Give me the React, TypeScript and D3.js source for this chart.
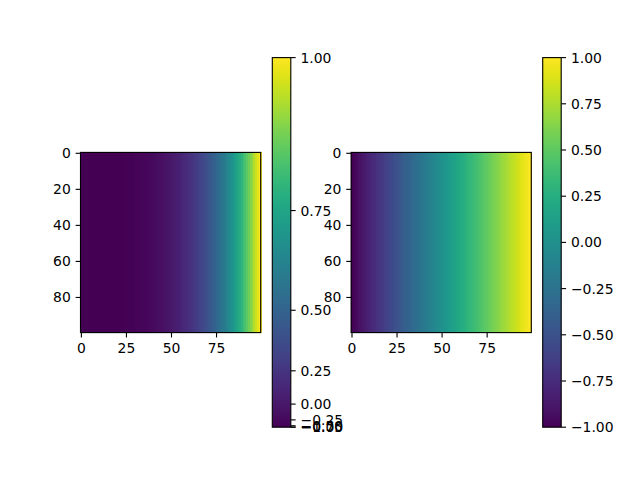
import React from "react";
import * as d3 from "d3";

// Column values of the image (each row is identical), from -1 to 1
const columnValues: number[] = [
  -1, -0.980, -0.960, -0.939, -0.919, -0.899, -0.879, -0.859, -0.838, -0.818,
  -0.798, -0.778, -0.758, -0.737, -0.717, -0.697, -0.677, -0.657, -0.636, -0.616,
  -0.596, -0.576, -0.556, -0.535, -0.515, -0.495, -0.475, -0.455, -0.434, -0.414,
  -0.394, -0.374, -0.354, -0.333, -0.313, -0.293, -0.273, -0.253, -0.232, -0.212,
  -0.192, -0.172, -0.152, -0.131, -0.111, -0.091, -0.071, -0.051, -0.030, -0.010,
  0.010, 0.030, 0.051, 0.071, 0.091, 0.111, 0.131, 0.152, 0.172, 0.192,
  0.212, 0.232, 0.253, 0.273, 0.293, 0.313, 0.333, 0.354, 0.374, 0.394,
  0.414, 0.434, 0.455, 0.475, 0.495, 0.515, 0.535, 0.556, 0.576, 0.596,
  0.616, 0.636, 0.657, 0.677, 0.697, 0.717, 0.737, 0.758, 0.778, 0.798,
  0.818, 0.838, 0.859, 0.879, 0.899, 0.919, 0.939, 0.960, 0.980, 1,
];
const nRows = 100;
const xTicks: number[] = [0, 25, 50, 75];
const yTicks: number[] = [0, 20, 40, 60, 80];
const cbarTicks: number[] = [-1, -0.75, -0.5, -0.25, 0, 0.25, 0.5, 0.75, 1];
const vmin = -1;
const vmax = 1;
const gamma = 4;

const powerNorm = (v: number) => {
  const r = Math.max(0, v - vmin);
  return Math.pow(r, gamma) / Math.pow(vmax - vmin, gamma);
};
const linearNorm = (v: number) => (v - vmin) / (vmax - vmin);

const FONT = "DejaVu Sans, sans-serif";
const FS = 13.9;
const TICK = 4.86;
const PAD = 4.86;
const LW = 1.11;

const fmtTick = (v: number) => {
  const s = v.toFixed(2);
  return s.startsWith("-") ? "\u2212" + s.slice(1) : s;
};

type PanelProps = {
  x0: number;
  cbX0: number;
  norm: (v: number) => number;
  id: string;
};

const imgTop = 152.4;
const imgSize = 180.2;
const cbTop = 57.6;
const cbBottom = 427.2;
const cbWidth = 18.5;

function Panel({ x0, cbX0, norm, id }: PanelProps) {
  const xs = d3.scaleLinear().domain([-0.5, columnValues.length - 0.5]).range([x0, x0 + imgSize]);
  const ys = d3.scaleLinear().domain([-0.5, nRows - 0.5]).range([imgTop, imgTop + imgSize]);
  const cbY = d3.scaleLinear().domain([0, 1]).range([cbBottom, cbTop]);
  const stops = d3.range(0, 1.0001, 0.02);
  return (
    <g>
      <defs>
        <linearGradient id={id} x1="0" y1="1" x2="0" y2="0">
          {stops.map((t) => (
            <stop key={t} offset={t} stopColor={d3.interpolateViridis(t)} />
          ))}
        </linearGradient>
      </defs>
      <g shapeRendering="crispEdges">
        {columnValues.map((v, i) => (
          <rect
            key={i}
            x={xs(i - 0.5)}
            y={ys(-0.5)}
            width={xs(i + 0.5) - xs(i - 0.5) + 0.8}
            height={ys(nRows - 0.5) - ys(-0.5)}
            fill={d3.interpolateViridis(norm(v))}
          />
        ))}
      </g>
      <rect
        x={x0}
        y={imgTop}
        width={imgSize}
        height={imgSize}
        fill="none"
        stroke="black"
        strokeWidth={LW}
      />
      {xTicks.map((t) => (
        <g key={"x" + t}>
          <line x1={xs(t)} x2={xs(t)} y1={imgTop + imgSize} y2={imgTop + imgSize + TICK} stroke="black" strokeWidth={LW} />
          <text
            x={xs(t)}
            y={imgTop + imgSize + TICK + PAD + 10.6}
            textAnchor="middle"
            fontFamily={FONT}
            fontSize={FS}
            fill="black"
          >
            {t}
          </text>
        </g>
      ))}
      {yTicks.map((t) => (
        <g key={"y" + t}>
          <line x1={x0 - TICK} x2={x0} y1={ys(t)} y2={ys(t)} stroke="black" strokeWidth={LW} />
          <text
            x={x0 - TICK - PAD}
            y={ys(t) + 5}
            textAnchor="end"
            fontFamily={FONT}
            fontSize={FS}
            fill="black"
          >
            {t}
          </text>
        </g>
      ))}
      <rect x={cbX0} y={cbTop} width={cbWidth} height={cbBottom - cbTop} fill={`url(#${id})`} />
      <rect
        x={cbX0}
        y={cbTop}
        width={cbWidth}
        height={cbBottom - cbTop}
        fill="none"
        stroke="black"
        strokeWidth={LW}
      />
      {cbarTicks.map((t) => {
        const y = cbY(norm(t));
        return (
          <g key={"c" + t}>
            <line x1={cbX0 + cbWidth} x2={cbX0 + cbWidth + TICK} y1={y} y2={y} stroke="black" strokeWidth={LW} />
            <text
              x={cbX0 + cbWidth + TICK + PAD}
              y={y + 5}
              textAnchor="start"
              fontFamily={FONT}
              fontSize={FS}
              fill="black"
            >
              {fmtTick(t)}
            </text>
          </g>
        );
      })}
    </g>
  );
}

export default function App() {
  return (
    <svg
      width={640}
      height={480}
      style={{ display: "block", position: "absolute", left: 0, top: 0, background: "white" }}
    >
      <rect width={640} height={480} fill="white" />
      <Panel x0={80.5} cbX0={272.3} norm={powerNorm} id="cbL" />
      <Panel x0={351.1} cbX0={542.7} norm={linearNorm} id="cbR" />
    </svg>
  );
}
